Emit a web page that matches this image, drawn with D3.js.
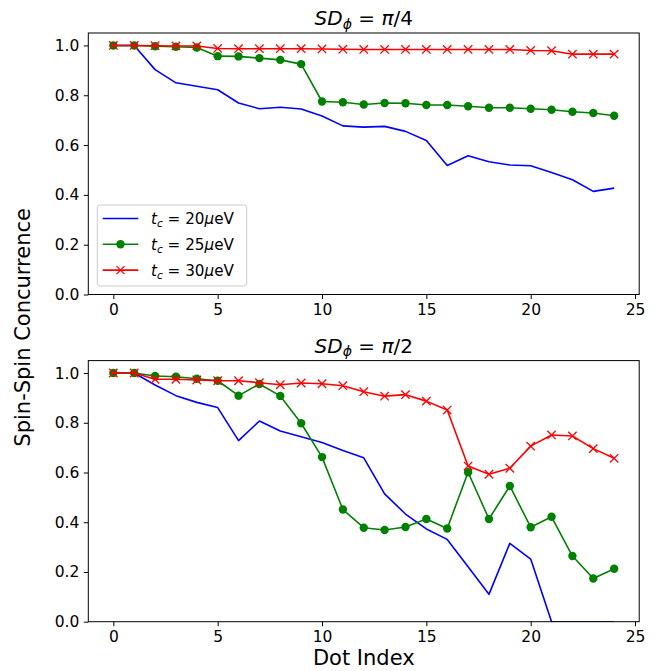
<!DOCTYPE html>
<html><head><meta charset="utf-8">
<script src="https://cdn.jsdelivr.net/npm/d3@7"></script>
<style>body{margin:0;background:#fff}svg{display:block;font-family:"DejaVu Sans",sans-serif}</style>
</head><body><div id="chart"></div>
<script>
const dotIndex = d3.range(0, 25);
const xTicks = [0, 5, 10, 15, 20, 25];
const yTicks = [0.0, 0.2, 0.4, 0.6, 0.8, 1.0];
const seriesNames = ["20", "25", "30"];
const seriesColors = ["#0000ff", "#008000", "#ff0000"];
const panelTitles = ["π/4", "π/2"];

// Panel 1: SD = pi/4
const top20 = [1.0,1.0,0.903,0.850,0.836,0.822,0.769,0.746,0.752,0.745,0.717,0.677,0.672,0.675,0.655,0.618,0.518,0.557,0.533,0.520,0.517,0.490,0.461,0.414,0.427];
const top25 = [1.0,1.0,0.997,0.995,0.992,0.957,0.956,0.949,0.942,0.925,0.775,0.772,0.763,0.769,0.768,0.761,0.761,0.756,0.750,0.750,0.746,0.742,0.734,0.729,0.718];
const top30 = [1.0,1.0,0.999,0.998,0.998,0.988,0.987,0.987,0.987,0.987,0.986,0.985,0.984,0.984,0.984,0.984,0.984,0.984,0.984,0.984,0.980,0.979,0.965,0.965,0.965];
// Panel 2: SD = pi/2
const bot20 = [1.0,1.0,0.952,0.909,0.882,0.861,0.728,0.807,0.767,0.744,0.721,0.688,0.659,0.514,0.433,0.373,0.331,0.221,0.110,0.315,0.252,0.0,0.0,0.0,0.0];
const bot25 = [1.0,1.0,0.988,0.985,0.977,0.969,0.909,0.956,0.908,0.798,0.662,0.451,0.378,0.369,0.381,0.413,0.375,0.601,0.413,0.546,0.380,0.422,0.264,0.174,0.213];
const bot30 = [1.0,1.0,0.975,0.975,0.972,0.969,0.969,0.961,0.953,0.960,0.957,0.949,0.925,0.907,0.913,0.887,0.851,0.626,0.593,0.617,0.706,0.751,0.747,0.696,0.657];

const panels = [
  {title: panelTitles[0], series: [top20, top25, top30], top: 33, bottom: 294.5, legend: true},
  {title: panelTitles[1], series: [bot20, bot25, bot30], top: 360.6, bottom: 621.7, legend: false}
];

const W = 659, H = 671;
const left = 88.3, right = 639.2;
const svg = d3.select("#chart").append("svg").attr("width", W).attr("height", H);

const x = d3.scaleLinear().domain([-1.2, 25.2]).range([left, right]);

panels.forEach((p, pi) => {
  const y = d3.scaleLinear().domain([0, 1.05]).range([p.bottom, p.top]);
  const g = svg.append("g");
  const clipId = "clip" + pi;
  svg.append("clipPath").attr("id", clipId).append("rect")
    .attr("x", left).attr("y", p.top).attr("width", right - left).attr("height", p.bottom - p.top);

  const xAxis = g.append("g").attr("transform", `translate(0,${p.bottom})`)
    .call(d3.axisBottom(x).tickValues(xTicks).tickSize(4.5).tickPadding(4.5).tickFormat(d3.format("d")));
  const yAxis = g.append("g").attr("transform", `translate(${left},0)`)
    .call(d3.axisLeft(y).tickValues(yTicks).tickSize(4.5).tickPadding(4.5).tickFormat(d3.format(".1f")));
  [xAxis, yAxis].forEach(a => {
    a.select(".domain").remove();
    a.selectAll("line").attr("stroke", "#000").attr("stroke-width", 1);
    a.selectAll("text").attr("font-size", 15.5).attr("fill", "#000").attr("font-family", "DejaVu Sans");
  });

  const line = d3.line().x((d, i) => x(dotIndex[i])).y(d => y(d));
  const plot = g.append("g").attr("clip-path", `url(#${clipId})`);
  p.series.forEach((s, si) => {
    plot.append("path").datum(s).attr("d", line).attr("fill", "none")
      .attr("stroke", seriesColors[si]).attr("stroke-width", 1.6).attr("stroke-linejoin", "round");
    if (si === 1) {
      plot.selectAll(null).data(s).enter().append("circle")
        .attr("cx", (d, i) => x(dotIndex[i])).attr("cy", d => y(d)).attr("r", 4.2).attr("fill", seriesColors[si]);
    } else if (si === 2) {
      const sz = 4.2;
      plot.selectAll(null).data(s).enter().append("path")
        .attr("d", (d, i) => {
          const cx = x(dotIndex[i]), cy = y(d);
          return `M${cx-sz},${cy-sz}L${cx+sz},${cy+sz}M${cx-sz},${cy+sz}L${cx+sz},${cy-sz}`;
        })
        .attr("stroke", seriesColors[si]).attr("stroke-width", 1.3).attr("fill", "none");
    }
  });

  g.append("rect").attr("x", left).attr("y", p.top).attr("width", right - left).attr("height", p.bottom - p.top)
    .attr("fill", "none").attr("stroke", "#000").attr("stroke-width", 1);

  // title
  const t = g.append("text").attr("x", (left + right) / 2).attr("y", p.top - 8)
    .attr("text-anchor", "middle").attr("font-size", 20).attr("fill", "#000");
  t.append("tspan").attr("font-style", "italic").text("SD");
  t.append("tspan").attr("font-style", "italic").attr("font-size", 14).attr("dy", 3.5).text("ϕ");
  t.append("tspan").attr("dy", -3.5).text(" = ");
  t.append("tspan").attr("font-style", "italic").text("π");
  t.append("tspan").text("/" + p.title.split("/")[1]);

  if (p.legend) {
    const lg = g.append("g");
    lg.append("rect").attr("x", 97.3).attr("y", 205).attr("width", 149.4).attr("height", 81)
      .attr("rx", 3).attr("fill", "#fff").attr("fill-opacity", 0.8).attr("stroke", "#cccccc").attr("stroke-width", 1);
    seriesNames.forEach((n, si) => {
      const ly = 218.5 + si * 25.8;
      lg.append("line").attr("x1", 102.7).attr("x2", 138.3).attr("y1", ly).attr("y2", ly)
        .attr("stroke", seriesColors[si]).attr("stroke-width", 1.6);
      const cx = 120.5;
      if (si === 1) lg.append("circle").attr("cx", cx).attr("cy", ly).attr("r", 4.2).attr("fill", seriesColors[si]);
      if (si === 2) lg.append("path").attr("d", `M${cx-4},${ly-4}L${cx+4},${ly+4}M${cx-4},${ly+4}L${cx+4},${ly-4}`)
        .attr("stroke", seriesColors[si]).attr("stroke-width", 1.3);
      const tt = lg.append("text").attr("x", 151).attr("y", ly + 5.5).attr("font-size", 15.2).attr("fill", "#000");
      tt.append("tspan").attr("font-style", "italic").text("t");
      tt.append("tspan").attr("font-style", "italic").attr("font-size", 10.5).attr("dy", 3).text("c");
      tt.append("tspan").attr("dy", -3).text(" = " + n);
      tt.append("tspan").attr("font-style", "italic").text("μ");
      tt.append("tspan").text("eV");
    });
  }
});

svg.append("text").attr("x", (left + right) / 2).attr("y", 665).attr("text-anchor", "middle")
  .attr("font-size", 21).attr("fill", "#000").text("Dot Index");
svg.append("text").attr("transform", `translate(30,${(33 + 621.7) / 2}) rotate(-90)`).attr("text-anchor", "middle")
  .attr("font-size", 21).attr("fill", "#000").text("Spin-Spin Concurrence");
</script></body></html>
